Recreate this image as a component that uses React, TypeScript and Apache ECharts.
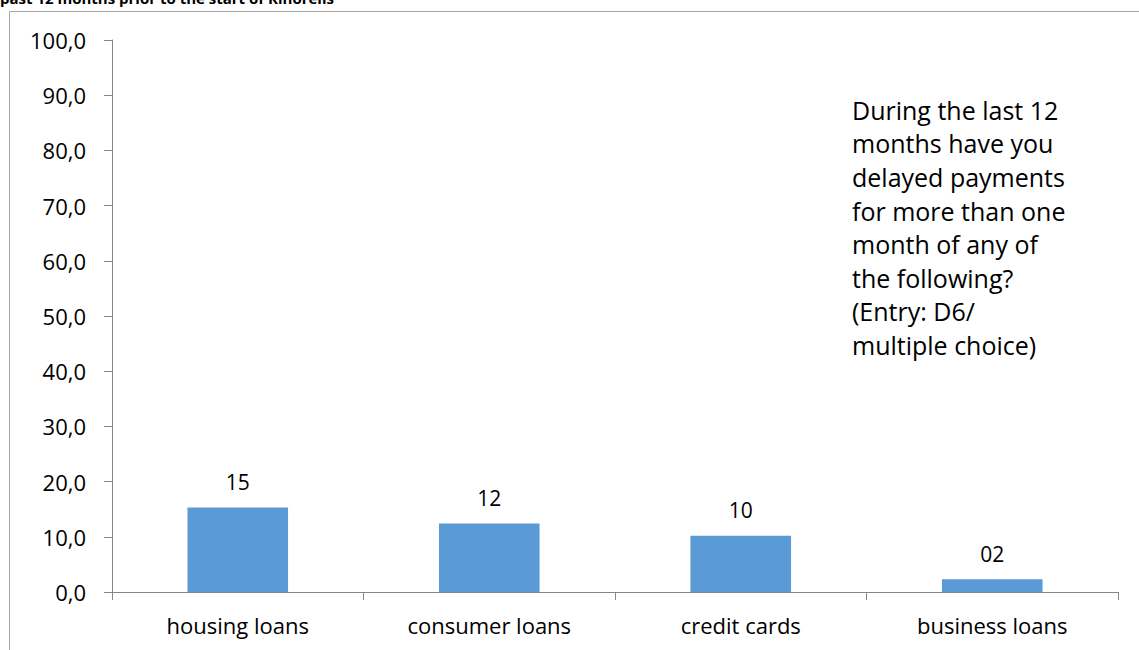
import React, { useEffect, useRef } from "react";
import * as echarts from "echarts";

const categories = ["housing loans", "consumer loans", "credit cards", "business loans"];
const values = [15.3, 12.4, 10.2, 2.3];
const yTicks = { min: 0, max: 100, interval: 10 };
const titleText = "past 12 months prior to the start of Kinoreils";
const noteLines = [
  "During the last 12",
  "months have you",
  "delayed payments",
  "for more than one",
  "month of any of",
  "the following?",
  "(Entry: D6/",
  "multiple choice)",
];

const FONT = "'Open Sans', sans-serif";

export default function App() {
  const ref = useRef<HTMLDivElement>(null);
  useEffect(() => {
    if (!ref.current) return;
    const chart = echarts.init(ref.current, undefined, { renderer: "svg" });
    chart.setOption({
      animation: false,
      backgroundColor: "#ffffff",
      grid: { left: 112, right: 21, top: 40, bottom: 58, containLabel: false },
      xAxis: {
        type: "category",
        data: categories,
        axisLine: { show: true, lineStyle: { color: "#868686", width: 1 } },
        axisTick: { show: true, length: 8, lineStyle: { color: "#868686" } },
        axisLabel: { color: "#000", fontFamily: FONT, fontSize: 22, margin: 22 },
      },
      yAxis: {
        type: "value",
        min: yTicks.min,
        max: yTicks.max,
        interval: yTicks.interval,
        splitLine: { show: false },
        axisLine: { show: true, lineStyle: { color: "#868686", width: 1 } },
        axisTick: { show: true, length: 8, lineStyle: { color: "#868686" } },
        axisLabel: {
          color: "#000",
          fontFamily: FONT,
          fontSize: 22,
          margin: 26,
          formatter: (v: number) => v.toFixed(1).replace(".", ","),
        },
      },
      series: [
        {
          type: "bar",
          data: values,
          barWidth: "40%",
          itemStyle: { color: "#5B9BD5" },
          label: {
            show: true,
            position: "top",
            distance: 15,
            color: "#000",
            fontFamily: FONT,
            fontSize: 21,
            formatter: (p: any) => String(Math.round(p.value)).padStart(2, "0"),
          },
        },
      ],
      graphic: [
        {
          type: "rect",
          shape: { x: 9.5, y: 11.5, width: 1200, height: 700 },
          style: { fill: "none", stroke: "#A6A6A6", lineWidth: 1 },
          silent: true,
        },
        {
          type: "text",
          x: 0,
          y: -2,
          style: {
            text: titleText,
            font: `bold 15px ${FONT}`,
            fill: "#000",
            verticalAlign: "middle",
          },
        },
        {
          type: "text",
          x: 852,
          y: 93,
          style: {
            text: noteLines.join("\n"),
            font: `25px ${FONT}`,
            lineHeight: 33.6,
            fill: "#000",
            verticalAlign: "top",
          },
        },
      ],
    });
    return () => chart.dispose();
  }, []);
  return (
    <div
      ref={ref}
      style={{ position: "absolute", left: 0, top: 0, width: 1139, height: 650 }}
    />
  );
}
